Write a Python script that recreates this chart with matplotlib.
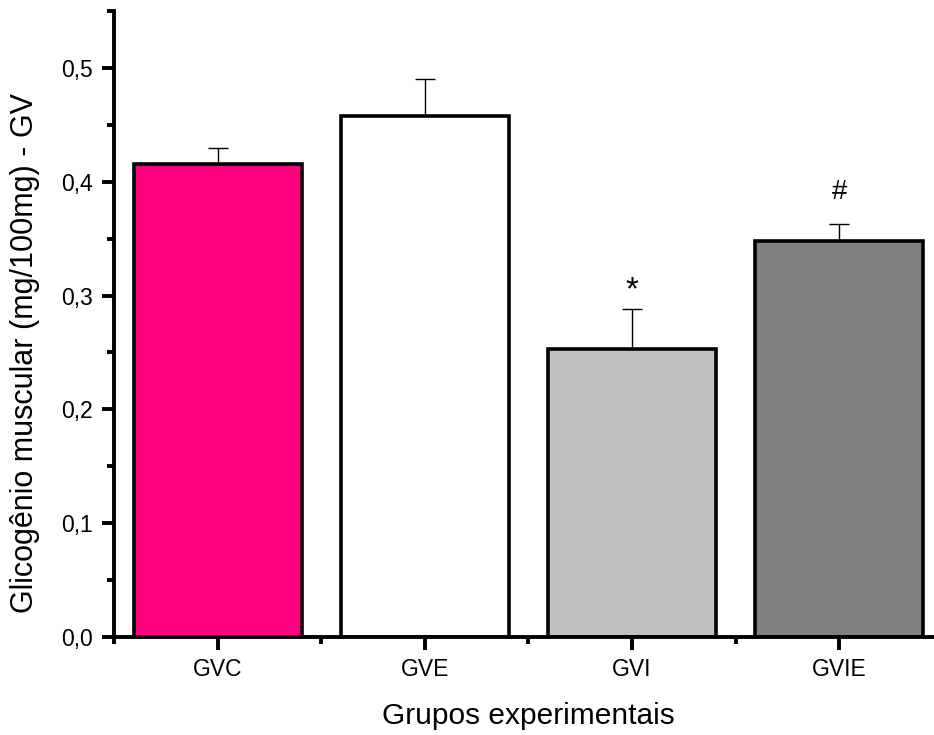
import matplotlib
import numpy as np

matplotlib.use("Agg")
matplotlib.rcParams["font.family"] = ["Liberation Sans", "Arimo", "DejaVu Sans"]
import matplotlib.pyplot as plt  # noqa: E402
from matplotlib.ticker import FuncFormatter, MultipleLocator  # noqa: E402

groups = ["GVC", "GVE", "GVI", "GVIE"]
means = [0.416, 0.458, 0.253, 0.348]
sem = [0.014, 0.032, 0.035, 0.015]
colors = ["#FF0080", "#FFFFFF", "#C0C0C0", "#808080"]
marks = ["", "", "*", "#"]

fig = plt.figure(figsize=(9.34, 7.35), dpi=100)
ax = fig.add_axes([0.122, 0.1333, 0.8876, 0.8517])

x = np.arange(1, len(groups) + 1)
ax.bar(x, means, width=0.81, color=colors, edgecolor="black", linewidth=2.6, zorder=2)
ax.errorbar(x, means, yerr=[np.zeros(len(sem)), sem], fmt="none", ecolor="black",
            elinewidth=1.0, capsize=7.5, capthick=1.0, zorder=1)

# significance marks above the error caps
for xi, m, s, lab in zip(x, means, sem, marks):
    if lab == "*":
        ax.text(xi, m + s + 0.0085, lab, ha="center", va="baseline", fontsize=24)
    elif lab == "#":
        ax.text(xi, m + s + 0.022, lab, ha="center", va="baseline", fontsize=20)

ax.set_xlim(0.5, 4.5)
ax.set_ylim(0, 0.55)
ax.set_xticks(x)
ax.set_xticklabels(groups)
ax.xaxis.set_minor_locator(MultipleLocator(1, offset=0.5))
ax.yaxis.set_major_locator(MultipleLocator(0.1))
ax.yaxis.set_minor_locator(MultipleLocator(0.05))
ax.yaxis.set_major_formatter(FuncFormatter(lambda v, _: f"{v:.1f}".replace(".", ",")))

for side in ("top", "right"):
    ax.spines[side].set_visible(False)
for side in ("left", "bottom"):
    ax.spines[side].set_linewidth(2.8)

ax.tick_params(which="major", direction="out", length=9, width=2.8, labelsize=16.5, pad=6)
ax.tick_params(which="minor", direction="out", length=5, width=2.8)

ax.set_xlabel("Grupos experimentais", fontsize=21.5)
ax.set_ylabel("Glicogênio muscular (mg/100mg) - GV", fontsize=22)
ax.xaxis.set_label_coords(0.5, -0.103)
ax.yaxis.set_label_coords(-0.089, 0.454)

fig.savefig("out.png", dpi=100)
